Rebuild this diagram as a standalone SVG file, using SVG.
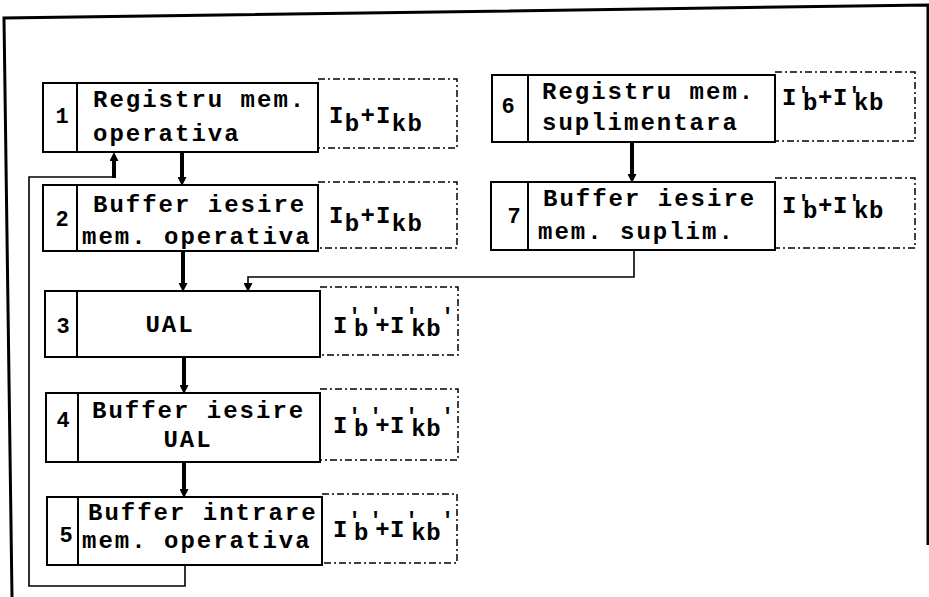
<svg xmlns="http://www.w3.org/2000/svg" width="929" height="597" viewBox="0 0 929 597">
<style>
.box{fill:#fff;stroke:#000;stroke-width:2}
.dv{stroke:#000;stroke-width:2}
.dash{fill:none;stroke:#000;stroke-width:1.5;stroke-dasharray:7 3 2 3}
.t{font-family:"Liberation Mono","Courier New",monospace;font-weight:bold;font-size:24px;letter-spacing:2px;fill:#000}
.m{text-anchor:middle}
.n{font-family:"Liberation Mono","Courier New",monospace;font-weight:bold;font-size:22px;text-anchor:middle;fill:#000}
.lab{font-family:"Liberation Mono","Courier New",monospace;font-weight:bold;font-size:24px;letter-spacing:1.3px;fill:#000}
.l2{letter-spacing:0.5px}
.pr{font-size:22px;letter-spacing:-7px}
.thick{stroke:#000;stroke-width:4;fill:none}
.thin{stroke:#000;stroke-width:1.6;fill:none}
.frame{stroke:#000;stroke-width:3;fill:none}
</style>
<defs>
<marker id="ah" viewBox="0 0 10 10" refX="0" refY="5" markerWidth="9" markerHeight="9" markerUnits="userSpaceOnUse" orient="auto"><path d="M0,0 L10,5 L0,10 z" fill="#000"/></marker>
</defs>
<path class="frame" d="M12,597 L4,18 L928,5 L928,545"/>

<g id="node1">
<rect class="box" x="43" y="83" width="275" height="69"/>
<line class="dv" x1="77" y1="83" x2="77" y2="152"/>
<path class="dash" d="M318,79 H457 V148 H318"/>
<text class="n" x="62" y="123">1</text>
<text class="t" x="93" y="107">Registru mem.</text>
<text class="t" x="93" y="141">operativa</text>
<text class="lab" x="329" y="123">I<tspan dy="8">b</tspan><tspan dy="-8">+I</tspan><tspan dy="8">kb</tspan></text>
</g>

<g id="node2">
<rect class="box" x="43" y="185" width="275" height="66"/>
<line class="dv" x1="77" y1="185" x2="77" y2="251"/>
<path class="dash" d="M318,182 H457 V248 H318"/>
<text class="n" x="62" y="226">2</text>
<text class="t" x="93" y="212">Buffer iesire</text>
<text class="t" x="82" y="244">mem. operativa</text>
<text class="lab" x="329" y="223">I<tspan dy="8">b</tspan><tspan dy="-8">+I</tspan><tspan dy="8">kb</tspan></text>
</g>

<g id="node3">
<rect class="box" x="45" y="291" width="275" height="66"/>
<line class="dv" x1="77" y1="291" x2="77" y2="357"/>
<path class="dash" d="M320,287 H458 V355 H320"/>
<text class="n" x="63" y="333">3</text>
<text class="t m" x="170" y="332">UAL</text>
<text class="lab l2" x="333" y="333">I<tspan class="pr" dy="-10">'</tspan><tspan dy="13">b</tspan><tspan class="pr" dy="-13">'</tspan><tspan dy="10">+I</tspan><tspan class="pr" dy="-10">'</tspan><tspan dy="13">kb</tspan><tspan class="pr" dy="-13">'</tspan></text>
</g>

<g id="node4">
<rect class="box" x="46" y="393" width="274" height="69"/>
<line class="dv" x1="78" y1="393" x2="78" y2="462"/>
<path class="dash" d="M320,389 H458 V460 H320"/>
<text class="n" x="63" y="427">4</text>
<text class="t" x="92" y="418">Buffer iesire</text>
<text class="t m" x="188" y="447">UAL</text>
<text class="lab l2" x="333" y="433">I<tspan class="pr" dy="-10">'</tspan><tspan dy="13">b</tspan><tspan class="pr" dy="-13">'</tspan><tspan dy="10">+I</tspan><tspan class="pr" dy="-10">'</tspan><tspan dy="13">kb</tspan><tspan class="pr" dy="-13">'</tspan></text>
</g>

<g id="node5">
<rect class="box" x="47" y="497" width="275" height="68"/>
<line class="dv" x1="78" y1="497" x2="78" y2="565"/>
<path class="dash" d="M322,494 H457 V563 H322"/>
<text class="n" x="66" y="542">5</text>
<text class="t" x="88" y="520">Buffer intrare</text>
<text class="t" x="82" y="548">mem. operativa</text>
<text class="lab l2" x="333" y="537">I<tspan class="pr" dy="-10">'</tspan><tspan dy="13">b</tspan><tspan class="pr" dy="-13">'</tspan><tspan dy="10">+I</tspan><tspan class="pr" dy="-10">'</tspan><tspan dy="13">kb</tspan><tspan class="pr" dy="-13">'</tspan></text>
</g>

<g id="node6">
<rect class="box" x="492" y="75" width="283" height="67"/>
<line class="dv" x1="528" y1="75" x2="528" y2="142"/>
<path class="dash" d="M775,72 H915 V141 H775"/>
<text class="n" x="508" y="113">6</text>
<text class="t" x="542" y="99">Registru mem.</text>
<text class="t" x="542" y="130">suplimentara</text>
<text class="lab l2" x="782" y="105">I<tspan class="pr" dy="-3">'</tspan><tspan dy="8">b</tspan><tspan dy="-5">+I</tspan><tspan class="pr" dy="-3">'</tspan><tspan dy="8">kb</tspan></text>
</g>

<g id="node7">
<rect class="box" x="491" y="182" width="284" height="68"/>
<line class="dv" x1="528" y1="182" x2="528" y2="250"/>
<path class="dash" d="M775,178 H915 V248 H775"/>
<text class="n" x="514" y="223">7</text>
<text class="t" x="543" y="206">Buffer iesire</text>
<text class="t" x="538" y="239">mem. suplim.</text>
<text class="lab l2" x="782" y="213">I<tspan class="pr" dy="-3">'</tspan><tspan dy="8">b</tspan><tspan dy="-5">+I</tspan><tspan class="pr" dy="-3">'</tspan><tspan dy="8">kb</tspan></text>
</g>

<g id="connectors">
<line class="thick" x1="182" y1="152" x2="182" y2="177" marker-end="url(#ah)"/>
<line class="thick" x1="183" y1="251" x2="183" y2="283" marker-end="url(#ah)"/>
<line class="thick" x1="184" y1="357" x2="184" y2="385" marker-end="url(#ah)"/>
<line class="thick" x1="184" y1="462" x2="184" y2="489" marker-end="url(#ah)"/>
<line class="thick" x1="632" y1="142" x2="632" y2="174" marker-end="url(#ah)"/>
<path class="thin" d="M634,250 V277 H248 V283" marker-end="url(#ah)"/>
<path class="thin" d="M185,565 V586 H29 V177 H114"/>
<line class="thick" x1="114" y1="178" x2="114" y2="161" marker-end="url(#ah)"/>
</g>
</svg>
